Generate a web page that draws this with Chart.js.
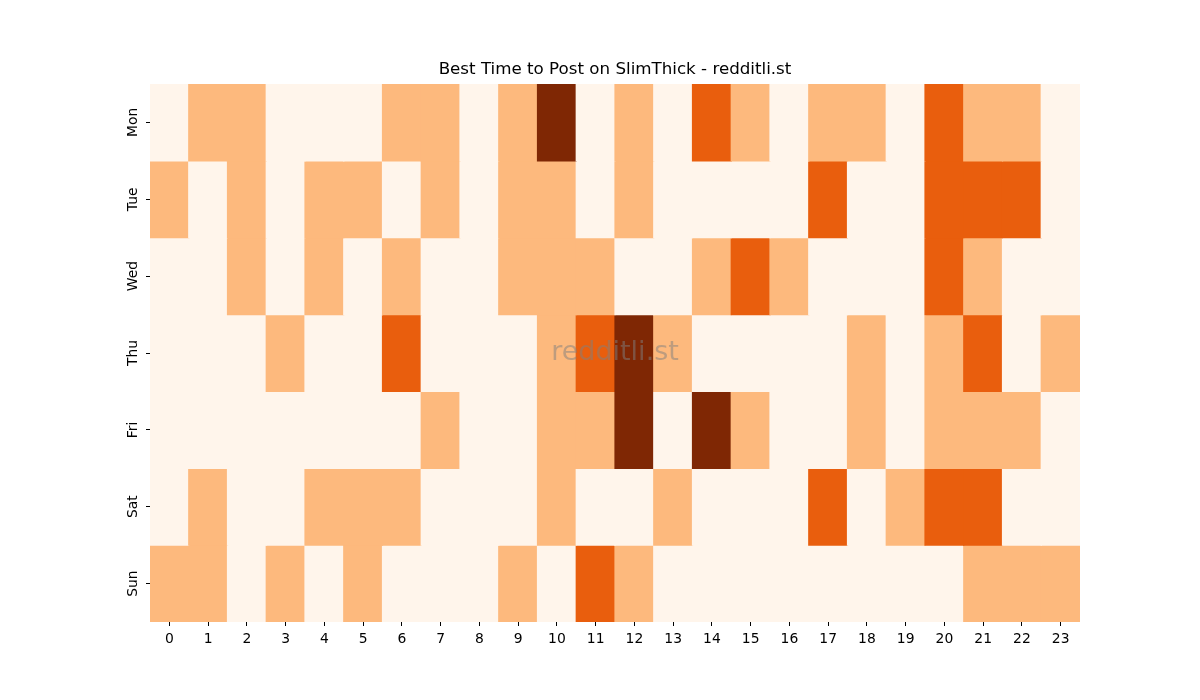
<!DOCTYPE html>
<html>
<head>
<meta charset="utf-8">
<script src="https://cdn.jsdelivr.net/npm/chart.js@4/dist/chart.umd.min.js"></script>
<style>
  html, body { margin: 0; padding: 0; background: #fff; }
  #wrap { width: 1200px; height: 700px; }
</style>
</head>
<body>
<div id="wrap"><canvas id="c" width="1200" height="700"></canvas></div>
<script>
// ---- data ----
const hours = ["0","1","2","3","4","5","6","7","8","9","10","11","12","13","14","15","16","17","18","19","20","21","22","23"];
const days = ["Mon","Tue","Wed","Thu","Fri","Sat","Sun"];
const mon = [0,1,1,0,0,0,1,1,0,1,3,0,1,0,2,1,0,1,1,0,2,1,1,0];
const tue = [1,0,1,0,1,1,0,1,0,1,1,0,1,0,0,0,0,2,0,0,2,2,2,0];
const wed = [0,0,1,0,1,0,1,0,0,1,1,1,0,0,1,2,1,0,0,0,2,1,0,0];
const thu = [0,0,0,1,0,0,2,0,0,0,1,2,3,1,0,0,0,0,1,0,1,2,0,1];
const fri = [0,0,0,0,0,0,0,1,0,0,1,1,3,0,3,1,0,0,1,0,1,1,1,0];
const sat = [0,1,0,0,1,1,1,0,0,0,1,0,0,1,0,0,0,2,0,1,2,2,0,0];
const sun = [1,1,0,1,0,1,0,0,0,1,0,2,1,0,0,0,0,0,0,0,0,1,1,1];
const rows = [mon, tue, wed, thu, fri, sat, sun];
const palette = ["#fff5eb", "#fdb97d", "#e95e0d", "#7f2704"];
const titleText = "Best Time to Post on SlimThick - redditli.st";
const watermarkText = "redditli.st";

const FONT = "'DejaVu Sans', sans-serif";

const datasets = rows.map((vals, d) => ({
  label: days[d],
  data: vals.map(() => [d, d + 1]),
  backgroundColor: vals.map(v => palette[v]),
  borderWidth: 0,
  barPercentage: 1,
  categoryPercentage: 1,
  inflateAmount: 0.6,
  grouped: false
}));

const decorations = {
  id: 'decorations',
  afterDatasetsDraw(chart) {
    const {ctx, chartArea: a} = chart;
    ctx.save();
    ctx.font = "27px " + FONT;
    ctx.fillStyle = "rgba(128,128,128,0.5)";
    ctx.textAlign = "center";
    ctx.textBaseline = "middle";
    ctx.fillText(watermarkText, (a.left + a.right) / 2, (a.top + a.bottom) / 2);
    ctx.font = "16.7px " + FONT;
    ctx.fillStyle = "#000";
    ctx.fillText(titleText, (a.left + a.right) / 2, a.top - 14);
    ctx.restore();
  }
};

new Chart(document.getElementById('c'), {
  type: 'bar',
  data: { labels: hours, datasets },
  plugins: [decorations],
  options: {
    responsive: false,
    animation: false,
    layout: { padding: { left: 110, right: 120, top: 84, bottom: 38 } },
    plugins: {
      legend: { display: false },
      tooltip: { enabled: false },
      title: { display: false }
    },
    scales: {
      x: {
        type: 'category',
        offset: true,
        afterFit(s) { s.height = 40; },
        grid: { display: true, drawOnChartArea: false, drawTicks: true, tickLength: 4, color: "#000", offset: false },
        border: { display: false },
        ticks: { color: "#000", font: { family: FONT, size: 13.9 }, padding: 5, maxRotation: 0, minRotation: 0, autoSkip: false }
      },
      y: {
        type: 'linear',
        min: 0,
        max: 7,
        reverse: true,
        afterFit(s) { s.width = 40; },
        afterBuildTicks(s) { s.ticks = days.map((d, i) => ({ value: i + 0.5 })); },
        grid: { display: true, drawOnChartArea: false, drawTicks: true, tickLength: 4, color: "#000" },
        border: { display: false },
        ticks: {
          color: "#000",
          font: { family: FONT, size: 13.9 },
          padding: -3,
          minRotation: 90,
          maxRotation: 90,
          crossAlign: 'center',
          callback: (v, i) => days[i]
        }
      }
    }
  }
});
</script>
</body>
</html>
